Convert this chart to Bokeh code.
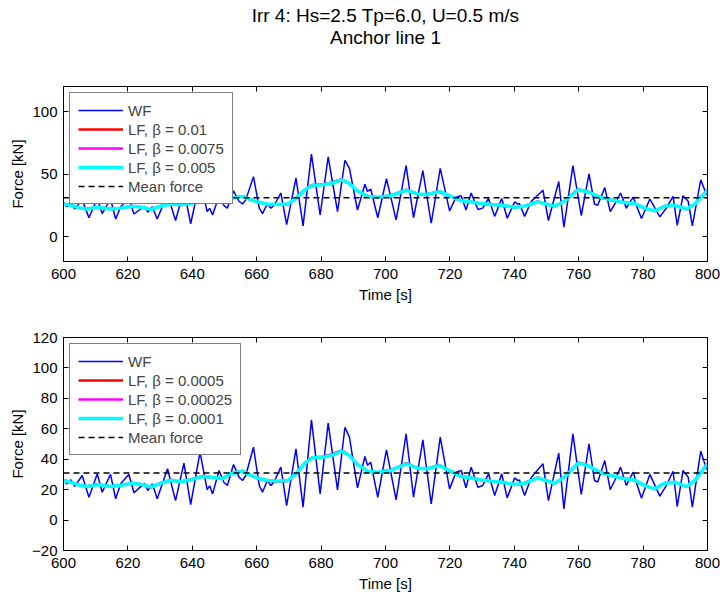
from bokeh.plotting import figure
from bokeh.models import (LinearAxis, FixedTicker, Legend, LegendItem,
                          CustomJSTickFormatter, Range1d)
from bokeh.core.properties import value
from bokeh.layouts import column
from bokeh.embed import file_html
from bokeh.resources import INLINE

# ---------------- data ----------------
title_lines = ["Irr 4: Hs=2.5 Tp=6.0, U=0.5 m/s", "Anchor line 1"]
x_label = "Time [s]"
y_label = "Force [kN]"
x_ticks = [600, 620, 640, 660, 680, 700, 720, 740, 760, 780, 800]
y_ticks_top = [0, 50, 100]
y_ticks_bottom = [-20, 0, 20, 40, 60, 80, 100, 120]
x_limits = [600, 800]
y_limits = [-20, 120]
betas_top = ["0.01", "0.0075", "0.005"]
betas_bottom = ["0.0005", "0.00025", "0.0001"]
mean_force = 31.0

# wave-frequency force (time [s], force [kN])
wf_t = [600.0, 601.0, 602.3, 603.5, 605.8, 607.9, 610.5, 612.0, 614.6, 616.2,
        617.8, 620.3, 621.9, 624.0, 625.2, 626.2, 627.6, 629.1, 632.3, 634.8,
        637.4, 639.5, 642.4, 644.6, 645.4, 646.3, 648.3, 649.8, 650.9, 652.8,
        654.5, 655.6, 656.6, 659.0, 660.8, 661.8, 663.3, 664.4, 665.4, 667.5,
        669.3, 672.2, 674.4, 677.0, 679.7, 682.2, 685.1, 687.4, 688.8, 691.3,
        693.6, 694.4, 695.4, 697.6, 700.3, 703.3, 706.4, 708.7, 711.6, 714.2,
        717.0, 719.9, 721.9, 723.5, 725.0, 726.6, 728.7, 730.2, 732.0, 733.9,
        736.1, 737.8, 740.1, 741.1, 741.6, 743.2, 745.3, 748.9, 750.6, 753.8,
        755.4, 758.2, 760.8, 763.2, 764.9, 765.9, 768.1, 769.8, 771.2, 773.0,
        774.8, 776.9, 779.5, 782.1, 785.2, 787.2, 789.3, 790.6, 792.4, 794.0,
        795.3, 797.9, 799.5, 800.0]
wf_v = [27.0, 23.8, 26.5, 22.1, 29.3, 15.0, 30.4, 18.3, 30.0, 14.0,
        24.0, 30.0, 18.0, 22.0, 24.2, 19.4, 23.8, 14.0, 33.7, 12.8,
        37.4, 10.2, 44.6, 20.0, 22.5, 17.2, 32.6, 24.9, 22.7, 36.5,
        28.2, 26.0, 29.3, 47.9, 22.7, 18.3, 26.0, 22.7, 25.0, 34.8,
        9.5, 46.8, 8.5, 65.9, 17.2, 63.7, 19.9, 61.0, 54.5, 21.2,
        41.8, 36.0, 38.0, 15.0, 46.2, 13.3, 56.7, 15.0, 52.7, 10.6,
        54.5, 20.5, 31.5, 32.6, 21.2, 34.8, 21.6, 22.7, 30.4, 16.1,
        30.4, 14.6, 27.7, 25.9, 26.4, 16.1, 28.2, 37.0, 12.8, 44.0,
        7.4, 56.7, 16.8, 50.1, 26.0, 25.0, 39.1, 19.9, 26.0, 34.8,
        22.7, 31.5, 14.4, 30.0, 15.7, 22.7, 32.1, 8.9, 32.6, 28.2,
        8.5, 45.3, 34.8, 33.0]

# low-frequency filtered force
lf_t = [600.0, 602.2, 605.3, 607.4, 610.5, 614.6, 617.7, 621.4, 624.5, 627.1,
        630.2, 633.3, 636.4, 639.5, 643.1, 646.3, 649.4, 651.9, 655.6, 657.6,
        660.2, 663.3, 666.5, 669.6, 672.2, 674.8, 677.3, 680.5, 683.1, 686.4,
        688.8, 691.3, 694.5, 697.6, 701.7, 706.4, 710.0, 713.1, 716.7, 719.9,
        723.5, 726.6, 729.7, 732.8, 736.4, 740.1, 743.2, 747.3, 752.5, 755.6,
        759.8, 762.9, 766.5, 770.1, 774.3, 777.4, 780.5, 783.6, 786.7, 789.9,
        793.5, 796.1, 800.0]
lf_cyan = [26.0, 24.9, 22.7, 22.0, 23.4, 22.0, 22.7, 24.2, 23.4, 21.6,
           24.2, 26.0, 25.3, 26.4, 28.6, 28.2, 27.1, 30.4, 32.1, 30.0,
           27.7, 26.0, 25.6, 26.0, 30.4, 36.9, 40.9, 41.3, 42.4, 45.3,
           42.4, 36.5, 32.1, 31.5, 32.6, 37.0, 34.1, 33.7, 35.8, 32.6,
           28.6, 27.7, 26.4, 25.6, 24.9, 23.4, 24.2, 27.7, 24.2, 28.2,
           37.4, 35.8, 31.5, 29.3, 27.1, 26.4, 22.7, 20.5, 24.2, 24.9,
           22.0, 26.0, 37.0]
lf_red = [26.2, 25.0, 22.6, 22.2, 23.6, 22.1, 22.9, 24.4, 23.3, 21.4,
          24.4, 26.3, 25.1, 26.6, 28.9, 28.0, 27.2, 30.7, 32.3, 29.8,
          27.5, 25.8, 25.3, 25.6, 30.6, 37.2, 41.3, 41.6, 43.1, 45.8,
          42.6, 36.3, 31.9, 31.4, 32.9, 37.5, 34.0, 33.9, 36.2, 32.4,
          28.5, 27.9, 26.2, 25.5, 24.7, 23.2, 24.4, 28.0, 24.0, 28.4,
          37.8, 35.9, 31.3, 29.1, 27.3, 26.2, 22.5, 20.3, 24.4, 25.0,
          21.8, 26.2, 37.3]
lf_magenta = [26.1, 25.0, 22.7, 22.1, 23.5, 22.0, 22.8, 24.3, 23.4, 21.5,
              24.3, 26.1, 25.2, 26.5, 28.7, 28.1, 27.1, 30.5, 32.2, 29.9,
              27.6, 25.9, 25.5, 25.8, 30.5, 37.2, 41.1, 41.4, 42.7, 45.5,
              42.5, 36.4, 32.0, 31.5, 32.7, 37.2, 34.1, 33.8, 36.0, 32.5,
              28.6, 27.8, 26.3, 25.6, 24.8, 23.3, 24.3, 27.8, 24.1, 28.3,
              37.6, 35.8, 31.4, 29.2, 27.2, 26.3, 22.6, 20.4, 24.3, 24.9,
              21.9, 26.1, 37.1]

FONT = "Liberation Sans"
W = 720
BORDER_L, BORDER_R = 63, 13


def make_title(height):
    # A bare strip above the panels, holding the two centred title lines.
    t = figure(width=W, height=height, x_range=Range1d(*x_limits),
               y_range=Range1d(height, 0), output_backend="svg",
               toolbar_location=None, x_axis_type=None, y_axis_type=None,
               min_border_left=BORDER_L, min_border_right=BORDER_R,
               min_border_top=0, min_border_bottom=0)
    t.outline_line_color = None
    t.xgrid.visible = False
    t.ygrid.visible = False
    x_mid = 0.5 * (x_limits[0] + x_limits[1])
    t.text(x=[x_mid, x_mid], y=[15, 37], text=title_lines,
           text_align="center", text_baseline="middle",
           text_font=value(FONT), text_font_size="19px", text_color="black")
    return t


def make_panel(height, border_top, border_bottom, y_ticks, betas):
    p = figure(width=W, height=height,
               x_range=Range1d(*x_limits), y_range=Range1d(*y_limits),
               output_backend="svg", toolbar_location=None,
               min_border_left=BORDER_L, min_border_right=BORDER_R,
               min_border_top=border_top, min_border_bottom=border_bottom)
    p.xgrid.visible = False
    p.ygrid.visible = False
    p.outline_line_color = "black"
    p.outline_line_width = 1

    for ax, ticks in ((p.xaxis[0], x_ticks), (p.yaxis[0], y_ticks)):
        ax.ticker = FixedTicker(ticks=ticks)
        ax.major_tick_in = 5
        ax.major_tick_out = 0
        ax.minor_tick_line_color = None
        ax.axis_line_color = "black"
        ax.major_tick_line_color = "black"
        ax.major_label_text_font = FONT
        ax.major_label_text_font_size = "15px"
        ax.major_label_text_color = "black"
        ax.axis_label_text_font = FONT
        ax.axis_label_text_font_size = "15px"
        ax.axis_label_text_font_style = "normal"
        ax.axis_label_text_color = "black"
    p.xaxis[0].axis_label = x_label
    p.yaxis[0].axis_label = y_label
    p.xaxis[0].major_label_standoff = 7
    p.xaxis[0].axis_label_standoff = 4
    p.yaxis[0].major_label_standoff = 6
    p.yaxis[0].axis_label_standoff = 3

    # box ticks on top and right (no labels)
    blank = CustomJSTickFormatter(code="return '';")
    top_ax = LinearAxis(ticker=FixedTicker(ticks=x_ticks), formatter=blank,
                        major_tick_in=5, major_tick_out=0,
                        minor_tick_line_color=None, major_label_standoff=0,
                        major_label_text_font_size="0px",
                        axis_line_color="black")
    right_ax = LinearAxis(ticker=FixedTicker(ticks=y_ticks), formatter=blank,
                          major_tick_in=5, major_tick_out=0,
                          minor_tick_line_color=None, major_label_standoff=0,
                          major_label_text_font_size="0px",
                          axis_line_color="black")
    p.add_layout(top_ax, "above")
    p.add_layout(right_ax, "right")

    r_wf = p.line(wf_t, wf_v, line_color="#0000ff", line_width=1.5)
    r_red = p.line(lf_t, lf_red, line_color="#ff0000", line_width=2.5)
    r_mag = p.line(lf_t, lf_magenta, line_color="#ff00ff", line_width=2.5)
    r_cyan = p.line(lf_t, lf_cyan, line_color="#00ffff", line_width=3.5)
    r_mean = p.line([lf_t[0], lf_t[-1]], [mean_force, mean_force],
                    line_color="black", line_width=1.5, line_dash="6 4")

    items = [LegendItem(label="WF", renderers=[r_wf]),
             LegendItem(label="LF, \u03b2 = " + betas[0], renderers=[r_red]),
             LegendItem(label="LF, \u03b2 = " + betas[1], renderers=[r_mag]),
             LegendItem(label="LF, \u03b2 = " + betas[2], renderers=[r_cyan]),
             LegendItem(label="Mean force", renderers=[r_mean])]
    legend = Legend(items=items, location="top_left",
                    label_text_font=FONT, label_text_font_size="15px",
                    label_height=18, glyph_height=18, glyph_width=45,
                    label_standoff=5, spacing=1, padding=8, margin=6,
                    border_line_color="black", border_line_width=1,
                    background_fill_color="white", background_fill_alpha=1.0)
    p.add_layout(legend)
    return p


p_title = make_title(70)
p_top = make_panel(240, 16, 49, y_ticks_top, betas_top)
p_bot = make_panel(284, 27, 44, y_ticks_bottom, betas_bottom)

layout = column(p_title, p_top, p_bot, spacing=0)
open("out.html", "w").write(file_html(layout, INLINE))
